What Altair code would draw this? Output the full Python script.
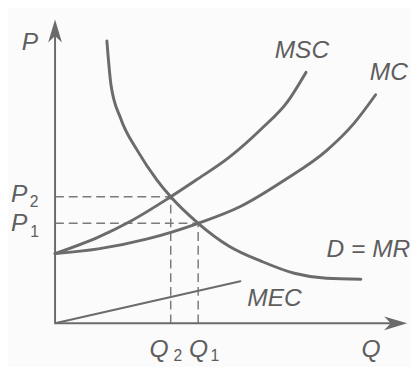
import altair as alt
import pandas as pd

# ---- data (economic units: Q on x, P on y) ----
msc_q = [0.0, 1.26, 2.2, 3.37, 4.11, 5.06, 6.03, 6.77, 7.31]
msc_p = [2.37, 2.93, 3.47, 4.3, 4.87, 5.63, 6.63, 7.53, 8.53]

mc_q = [0.0, 1.26, 2.69, 4.17, 5.4, 6.69, 7.91, 8.69, 9.34]
mc_p = [2.37, 2.53, 2.87, 3.4, 3.97, 4.87, 5.87, 6.77, 7.77]

d_q = [1.51, 1.63, 1.91, 2.4, 2.97, 3.37, 4.17, 5.06, 6.03, 6.97, 7.91, 8.91]
d_p = [9.6, 8.1, 6.97, 5.87, 4.87, 4.3, 3.4, 2.63, 2.1, 1.7, 1.53, 1.5]

mec_q = [0.0, 5.4]
mec_p = [0.0, 1.43]

eq_q = [3.37, 4.17]   # Q2, Q1
eq_p = [4.3, 3.4]     # P2, P1

axis_q_max = 10.26
axis_p_max = 10.33

label_text = ["P", "P", "P", "Q", "Q", "Q", "MSC", "MC", "D = MR", "MEC"]
label_q = [-0.97, -1.28, -1.28, 2.75, 3.9, 8.93, 6.4, 9.17, 7.91, 5.6]
label_p = [9.3, 4.133, 3.133, -1.13, -1.13, -1.13, 9.03, 8.27, 2.27, 0.6]

sub_text = ["2", "1", "2", "1"]
sub_q = [-0.74, -0.72, 3.45, 4.53]
sub_p = [3.967, 2.933, -1.27, -1.27]

GREY = "#6b6b6b"
TXT = "#5e5e5e"

xs = alt.Scale(domain=[-1.371, 10.371], nice=False, zero=False)
ys = alt.Scale(domain=[-1.367, 10.6], nice=False, zero=False)
X = lambda f: alt.X(f, type="quantitative", scale=xs, axis=None)
Y = lambda f: alt.Y(f, type="quantitative", scale=ys, axis=None)


def curve(qs, ps, width, interp="monotone"):
    df = pd.DataFrame({"Q": qs, "P": ps})
    return alt.Chart(df).mark_line(
        color=GREY, strokeWidth=width, interpolate=interp, strokeCap="round"
    ).encode(x=X("Q"), y=Y("P"))


msc = curve(msc_q, msc_p, 3)
mc = curve(mc_q, mc_p, 3)
dem = curve(d_q, d_p, 3)
mec = curve(mec_q, mec_p, 2, "linear")

# axes
axes_df = pd.DataFrame({"Q": [0.0, 0.0], "P": [0.0, 0.0],
                        "Q2": [axis_q_max - 0.3, 0.0], "P2": [0.0, axis_p_max - 0.3]})
axes = alt.Chart(axes_df).mark_rule(color=GREY, strokeWidth=2).encode(
    x=X("Q"), y=Y("P"), x2="Q2", y2="P2")

arrow_path = "M0,0 L0.3,1 L0,0.72 L-0.3,1 Z"
arr_df = pd.DataFrame({"Q": [0.0, axis_q_max], "P": [axis_p_max, 0.0], "ang": [0, 90]})
arrows = alt.Chart(arr_df).mark_point(
    shape=arrow_path, filled=True, color=GREY, opacity=1, size=2200, strokeWidth=0
).encode(x=X("Q"), y=Y("P"), angle=alt.Angle("ang:Q", scale=None))

# dashed guides
h_df = pd.DataFrame({"Q": [0.0, 0.0], "Q2": eq_q, "P": eq_p})
hdash = alt.Chart(h_df).mark_rule(color="#7a7a7a", strokeWidth=1.5, strokeDash=[9, 5]).encode(
    x=X("Q"), x2="Q2", y=Y("P"))
v_df = pd.DataFrame({"Q": eq_q, "P": [0.0, 0.0], "P2": eq_p})
vdash = alt.Chart(v_df).mark_rule(color="#7a7a7a", strokeWidth=1.5, strokeDash=[9, 5]).encode(
    x=X("Q"), y=Y("P"), y2="P2")

lab_df = pd.DataFrame({"t": label_text, "Q": label_q, "P": label_p})
labels = alt.Chart(lab_df).mark_text(
    align="left", baseline="alphabetic", font="Liberation Sans", fontStyle="italic",
    fontSize=25, color=TXT
).encode(x=X("Q"), y=Y("P"), text="t:N")

sub_df = pd.DataFrame({"t": sub_text, "Q": sub_q, "P": sub_p})
subs = alt.Chart(sub_df).mark_text(
    align="left", baseline="alphabetic", font="Liberation Sans",
    fontSize=16, color=TXT
).encode(x=X("Q"), y=Y("P"), text="t:N")

chart = alt.layer(hdash, vdash, axes, arrows, mec, mc, msc, dem, labels, subs).properties(
    width=411, height=359, autosize=alt.AutoSizeParams(type="none"), padding=0,
    background="#fbfbfb"
).configure_view(stroke=None)

chart.save("out.html", embed_options={"renderer": "svg", "actions": False})
